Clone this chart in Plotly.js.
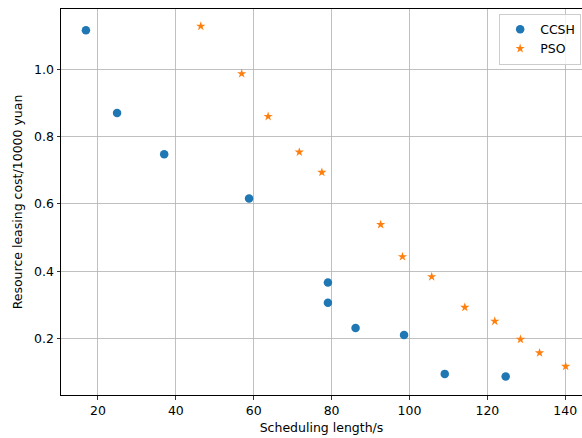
<!DOCTYPE html>
<html>
<head>
<meta charset="utf-8">
<script src="https://cdn.plot.ly/plotly-3.0.1.min.js"></script>
<style>html,body{margin:0;padding:0;background:#fff}#chart{width:582px;height:438px}</style>
</head>
<body>
<div id="chart"></div>
<script>
const ccshX = [16.9, 24.9, 37.0, 58.8, 79.05, 79.05, 86.15, 98.6, 109.05, 124.7];
const ccshY = [1.116, 0.870, 0.748, 0.616, 0.367, 0.307, 0.232, 0.211, 0.0955, 0.0875];
const psoX = [46.4, 56.9, 63.7, 71.7, 77.5, 92.6, 98.2, 105.7, 114.2, 121.9, 128.5, 133.4, 140.1];
const psoY = [1.128, 0.987, 0.860, 0.754, 0.694, 0.539, 0.4436, 0.384, 0.293, 0.252, 0.198, 0.158, 0.118];
const xTicks = [20, 40, 60, 80, 100, 120, 140];
const yTicks = [0.2, 0.4, 0.6, 0.8, 1.0];
const seriesNames = ['CCSH', 'PSO'];

const font = {family: 'DejaVu Sans', size: 12.5, color: '#000'};
const data = [
  {x: ccshX, y: ccshY, type: 'scatter', mode: 'markers', name: seriesNames[0],
   marker: {color: '#1f77b4', size: 8.5, symbol: 'circle'}},
  {x: psoX, y: psoY, type: 'scatter', mode: 'markers', name: seriesNames[1],
   marker: {color: '#ff7f0e', size: 7, symbol: 'star'}}
];
const layout = {
  width: 582, height: 438,
  margin: {l: 61, r: 0, t: 9, b: 43},
  paper_bgcolor: '#fff', plot_bgcolor: '#fff',
  font: font,
  showlegend: true,
  legend: {x: 0.841, y: 0.988, xanchor: 'left', yanchor: 'top',
    bgcolor: 'rgba(255,255,255,0.8)', bordercolor: '#cccccc', borderwidth: 1,
    entrywidth: 60, entrywidthmode: 'pixels',
    font: font},
  xaxis: {range: [10.5, 144.3], tickvals: xTicks, ticktext: xTicks.map(String),
    showgrid: true, gridcolor: '#b0b0b0', gridwidth: 0.8, zeroline: false,
    showline: true, linecolor: '#000', linewidth: 1, mirror: true,
    ticks: 'outside', ticklen: 3.5, tickwidth: 0.8, tickcolor: '#000',
    automargin: false,
    title: {text: 'Scheduling length/s', font: font, standoff: 6}},
  yaxis: {range: [0.0328, 1.179], tickvals: yTicks, ticktext: yTicks.map(v => v.toFixed(1)),
    showgrid: true, gridcolor: '#b0b0b0', gridwidth: 0.8, zeroline: false,
    showline: true, linecolor: '#000', linewidth: 1, mirror: false,
    ticks: 'outside', ticklen: 3.5, tickwidth: 0.8, tickcolor: '#000',
    automargin: false,
    title: {text: 'Resource leasing cost/10000 yuan', font: font, standoff: 8}}
};
Plotly.newPlot('chart', data, layout, {displayModeBar: false, staticPlot: true});
</script>
</body>
</html>
